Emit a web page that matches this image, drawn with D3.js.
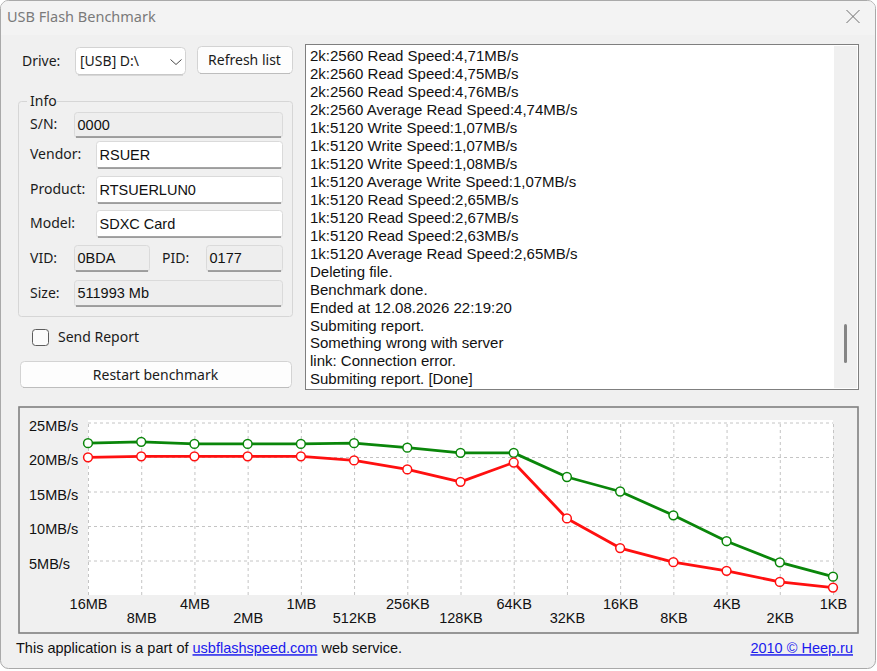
<!DOCTYPE html>
<html>
<head>
<meta charset="utf-8">
<title>USB Flash Benchmark</title>
<script src="https://cdn.jsdelivr.net/npm/d3@7"></script>
<style>
  html, body { margin: 0; padding: 0; background: #fff; }
  svg { display: block; }
  .ui { font-family: "Noto Sans", sans-serif; font-size: 14px; fill: #1b1b1b; }
  .ms { font-family: "Liberation Sans", Arial, sans-serif; fill: #111; }
</style>
</head>
<body>
<svg id="app" width="877" height="671"></svg>
<script>
// данные графика
const blockSizes = ['16MB', '8MB', '4MB', '2MB', '1MB', '512KB', '256KB', '128KB', '64KB', '32KB', '16KB', '8KB', '4KB', '2KB', '1KB'];
const readSpeed = [22.0, 22.2, 21.9, 21.9, 21.9, 22.0, 21.35, 20.6, 20.6, 17.1, 15.0, 11.55, 7.8, 4.74, 2.65];
const writeSpeed = [19.95, 20.1, 20.1, 20.1, 20.1, 19.5, 18.2, 16.4, 19.2, 11.1, 6.8, 4.75, 3.5, 1.9, 1.07];
const speedTicks = [5, 10, 15, 20, 25];

const infoLabels = ['S/N:', 'Vendor:', 'Product:', 'Model:', 'VID:', 'PID:', 'Size:'];
const infoValues = ['0000', 'RSUER', 'RTSUERLUN0', 'SDXC Card', '0BDA', '0177', '511993 Mb'];

const logLines = [
  '2k:2560 Read Speed:4,71MB/s',
  '2k:2560 Read Speed:4,75MB/s',
  '2k:2560 Read Speed:4,76MB/s',
  '2k:2560 Average Read Speed:4,74MB/s',
  '1k:5120 Write Speed:1,07MB/s',
  '1k:5120 Write Speed:1,07MB/s',
  '1k:5120 Write Speed:1,08MB/s',
  '1k:5120 Average Write Speed:1,07MB/s',
  '1k:5120 Read Speed:2,65MB/s',
  '1k:5120 Read Speed:2,67MB/s',
  '1k:5120 Read Speed:2,63MB/s',
  '1k:5120 Average Read Speed:2,65MB/s',
  'Deleting file.',
  'Benchmark done.',
  'Ended at 12.08.2026 22:19:20',
  'Submiting report.',
  'Something wrong with server',
  'link: Connection error.',
  'Submiting report. [Done]',
];

function start() {
  const svg = d3.select('#app');

  // окно
  svg.append('rect')
    .attr('x', 0.5).attr('y', 0.5)
    .attr('width', 875).attr('height', 668)
    .attr('rx', 8)
    .attr('fill', '#f0f0f0')
    .attr('stroke', '#a9a9a9');
  svg.append('path')
    .attr('d', 'M1,35 V9 Q1,1 9,1 H867 Q875,1 875,9 V35 Z')
    .attr('fill', '#f3f3f3');
  svg.append('text').attr('class', 'ui')
    .attr('x', 7).attr('y', 17).attr('dy', '0.35em')
    .style('font-size', '14.5px').style('fill', '#7a7a7a')
    .text('USB Flash Benchmark');
  svg.append('path')
    .attr('d', 'M846.5,10 L859.5,23 M859.5,10 L846.5,23')
    .attr('stroke', '#6f6f6f').attr('stroke-width', 1);

  const label = (x, y, text) => svg.append('text').attr('class', 'ui')
    .attr('x', x).attr('y', y).attr('dy', '0.35em').text(text);

  const button = (x, y, w, h, text) => {
    svg.append('rect')
      .attr('x', x + 0.5).attr('y', y + 0.5)
      .attr('width', w).attr('height', h).attr('rx', 4)
      .attr('fill', '#fdfdfd').attr('stroke', '#d3d3d3');
    svg.append('path')
      .attr('d', `M${x + 3},${y + h + 0.5} H${x + w - 2}`)
      .attr('stroke', '#bdbdbd');
    svg.append('text').attr('class', 'ui')
      .attr('x', x + w / 2).attr('y', y + h / 2 + 1).attr('dy', '0.35em')
      .attr('text-anchor', 'middle').text(text);
  };

  const field = (x, y, w, h, readonly, text) => {
    svg.append('rect')
      .attr('x', x + 0.5).attr('y', y + 0.5)
      .attr('width', w).attr('height', h).attr('rx', 3)
      .attr('fill', readonly ? '#eeeeee' : '#ffffff')
      .attr('stroke', '#dadada');
    svg.append('path')
      .attr('d', `M${x + 2},${y + h} H${x + w - 1}`)
      .attr('stroke', '#878787').attr('stroke-width', 1.3);
    svg.append('text').attr('class', 'ms')
      .attr('x', x + 3.5).attr('y', y + h / 2).attr('dy', '0.36em')
      .style('font-size', '14.5px').text(text);
  };

  // Drive
  label(22, 61, 'Drive:');
  svg.append('rect')
    .attr('x', 75.5).attr('y', 47.5).attr('width', 110).attr('height', 27).attr('rx', 4)
    .attr('fill', '#ffffff').attr('stroke', '#d3d3d3');
  svg.append('path').attr('d', 'M78,75 H183').attr('stroke', '#bdbdbd');
  label(80, 61, '[USB] D:\\');
  svg.append('path').attr('d', 'M170.5,59.5 L176,64.5 L181.5,59.5')
    .attr('fill', 'none').attr('stroke', '#4a4a4a');
  button(197, 46, 95, 27, 'Refresh list');

  // Info
  svg.append('rect')
    .attr('x', 18.5).attr('y', 101.5).attr('width', 274).attr('height', 215).attr('rx', 3)
    .attr('fill', 'none').attr('stroke', '#d6d6d6');
  svg.append('rect').attr('x', 27).attr('y', 95).attr('width', 30).attr('height', 12).attr('fill', '#f0f0f0');
  label(30, 101.5, 'Info');

  const fields = [
    {x: 74, y: 112, w: 208, h: 25, ro: true, lx: 30},
    {x: 96, y: 141, w: 186, h: 27, ro: false, lx: 30},
    {x: 96, y: 176, w: 186, h: 27, ro: false, lx: 30},
    {x: 96, y: 210, w: 186, h: 27, ro: false, lx: 30},
    {x: 74, y: 245, w: 75, h: 26, ro: true, lx: 30},
    {x: 206, y: 245, w: 76, h: 26, ro: true, lx: 162},
    {x: 74, y: 280, w: 208, h: 26, ro: true, lx: 30},
  ];
  fields.forEach((f, i) => {
    label(f.lx, f.y + f.h / 2, infoLabels[i]);
    field(f.x, f.y, f.w, f.h, f.ro, infoValues[i]);
  });

  // Send report
  svg.append('rect')
    .attr('x', 32.5).attr('y', 329.5).attr('width', 16).attr('height', 16).attr('rx', 3)
    .attr('fill', '#fbfbfb').attr('stroke', '#5c5c5c');
  label(58, 337.5, 'Send Report');
  button(20, 361, 271, 26, 'Restart benchmark');

  // лог
  svg.append('rect')
    .attr('x', 305.5).attr('y', 44.5).attr('width', 553).attr('height', 345)
    .attr('fill', '#ffffff').attr('stroke', '#7f7f7f');
  svg.append('rect')
    .attr('x', 834).attr('y', 46).attr('width', 23).attr('height', 342)
    .attr('fill', '#f0f0f0');
  svg.append('rect')
    .attr('x', 844).attr('y', 324).attr('width', 3).attr('height', 39).attr('rx', 1.5)
    .attr('fill', '#858585');
  svg.append('g')
    .selectAll('text')
    .data(logLines)
    .join('text')
    .attr('class', 'ms')
    .attr('x', 310)
    .attr('y', (d, i) => 56 + i * 17.94)
    .attr('dy', '0.36em')
    .style('font-size', '15px')
    .text(d => d);

  // график
  svg.append('rect')
    .attr('x', 19).attr('y', 407).attr('width', 839).attr('height', 226)
    .attr('fill', '#f0f0f0').attr('stroke', '#808080').attr('stroke-width', 1.6);

  drawChart(svg);

  // подвал
  const foot = svg.append('text').attr('class', 'ms')
    .attr('x', 16).attr('y', 648).attr('dy', '0.36em')
    .style('font-size', '14.5px');
  foot.append('tspan').text('This application is a part of ');
  foot.append('tspan').style('fill', '#1a1aee').style('text-decoration', 'underline').text('usbflashspeed.com');
  foot.append('tspan').text(' web service.');

  svg.append('text').attr('class', 'ms')
    .attr('x', 853).attr('y', 648).attr('dy', '0.36em')
    .attr('text-anchor', 'end')
    .style('font-size', '14.5px').style('fill', '#1a1aee').style('text-decoration', 'underline')
    .text('2010 © Heep.ru');
}

function drawChart(svg) {
  const x = d3.scalePoint()
    .domain(blockSizes)
    .range([88, 833]);

  const y = d3.scaleLinear()
    .domain([0, 25])
    .range([595, 422.5]);

  const left = x(blockSizes[0]);
  const right = x(blockSizes[blockSizes.length - 1]);

  svg.append('rect')
    .attr('x', left).attr('y', y(25) - 2.5)
    .attr('width', right - left).attr('height', y(0) - y(25) + 2.5)
    .attr('fill', '#ffffff');

  // d3 ставит font-size 10 на группу оси, поэтому шрифт задаём после call
  const axisFont = g => g
    .attr('font-family', '"Liberation Sans", Arial, sans-serif')
    .attr('font-size', 14.5);

  const xAxis = g => g
    .attr('transform', `translate(0,${y(0)})`)
    .call(d3.axisBottom(x).tickSize(-(y(0) - y(25))).tickPadding(0))
    .call(axisFont)
    .call(g => g.select('.domain').remove())
    .call(g => g.selectAll('.tick line')
      .attr('stroke', '#c4c4c4')
      .attr('stroke-dasharray', '3,3'))
    .call(g => g.selectAll('.tick text')
      .attr('y', (d, i) => i % 2 ? 27.7 : 13.5)
      .attr('dy', 0)
      .attr('fill', '#111'));

  const yAxis = g => g
    .attr('transform', `translate(${left},0)`)
    .call(d3.axisLeft(y).tickValues(speedTicks).tickSize(-(right - left)).tickFormat(d => d + 'MB/s'))
    .call(axisFont)
    .call(g => g.select('.domain').remove())
    .call(g => g.selectAll('.tick line')
      .attr('stroke', '#c4c4c4')
      .attr('stroke-dasharray', '3,3'))
    .call(g => g.selectAll('.tick text')
      .attr('x', 29 - left)
      .attr('dy', '0.55em')
      .attr('text-anchor', 'start')
      .attr('fill', '#111'));

  svg.append('g').call(xAxis);
  svg.append('g').call(yAxis);

  const line = d3.line()
    .x((d, i) => x(blockSizes[i]))
    .y(d => y(d));

  const series = [
    {values: readSpeed, color: '#0a860a'},
    {values: writeSpeed, color: '#ff1010'},
  ];

  series.forEach(s => {
    svg.append('path')
      .datum(s.values)
      .attr('fill', 'none')
      .attr('stroke', s.color)
      .attr('stroke-width', 2.8)
      .attr('stroke-linejoin', 'round')
      .attr('d', line);

    svg.append('g')
      .selectAll('circle')
      .data(s.values)
      .join('circle')
      .attr('cx', (d, i) => x(blockSizes[i]))
      .attr('cy', d => y(d))
      .attr('r', 4.4)
      .attr('fill', '#ffffff')
      .attr('stroke', s.color)
      .attr('stroke-width', 1.5);
  });
}

window.onload = start;
</script>
</body>
</html>
